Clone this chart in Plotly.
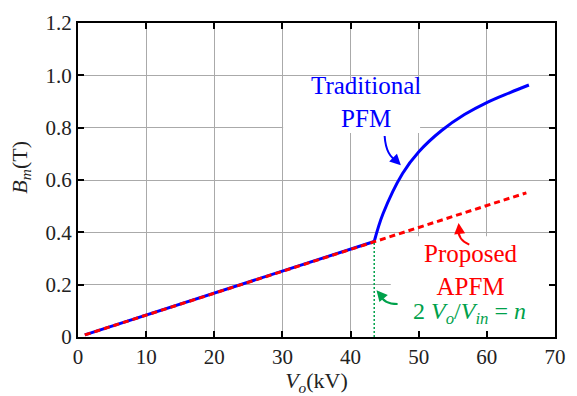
import plotly.graph_objects as go

# ---- data ----
vo_trad_lin = [1, 43.47]
bm_trad_lin = [0.008, 0.365]
vo_trad_sat = [43.47, 44.76, 47.63, 50.02, 53.36, 56.71, 60.06, 63.41, 66.17]
bm_trad_sat = [0.365, 0.471, 0.625, 0.708, 0.789, 0.850, 0.897, 0.934, 0.963]

vo_prop = [1, 43.47, 65.8]
bm_prop = [0.008, 0.365, 0.551]

vo_boundary = [43.47, 43.47]
bm_boundary = [0.0, 0.365]

x_ticks = [0, 10, 20, 30, 40, 50, 60, 70]
y_ticks = [0, 0.2, 0.4, 0.6, 0.8, 1.0, 1.2]
y_ticktext = ["0", "0.2", "0.4", "0.6", "0.8", "1.0", "1.2"]

BLUE = "#0000ff"
RED = "#ff0000"
GREEN = "#00a14b"
FONT = "Liberation Serif, Times New Roman, DejaVu Serif, serif"
TXT = "#222222"

fig = go.Figure()
fig.add_trace(go.Scatter(x=vo_trad_lin, y=bm_trad_lin, mode="lines",
                         line=dict(color=BLUE, width=3), showlegend=False))
fig.add_trace(go.Scatter(x=vo_trad_sat, y=bm_trad_sat, mode="lines",
                         line=dict(color=BLUE, width=3, shape="spline", smoothing=1),
                         showlegend=False))
fig.add_trace(go.Scatter(x=vo_prop, y=bm_prop, mode="lines",
                         line=dict(color=RED, width=3, dash="6px,4px"), showlegend=False))
fig.add_trace(go.Scatter(x=vo_boundary, y=bm_boundary, mode="lines",
                         line=dict(color=GREEN, width=1.5, dash="2px,2px"), showlegend=False))

# white label boxes hiding the grid
fig.add_shape(type="rect", xref="x", yref="y", x0=30.1, x1=50.2, y0=0.78, y1=0.975,
              fillcolor="white", line=dict(width=0), layer="between")
fig.add_shape(type="rect", xref="x", yref="y", x0=45.9, x1=70, y0=0.0, y1=0.385,
              fillcolor="white", line=dict(width=0), layer="between")

# curved arrow shafts
fig.add_shape(type="path", xref="x", yref="y", path="M 45.0,0.768 Q 45.2,0.690 46.9,0.672",
              line=dict(color=BLUE, width=2))
fig.add_shape(type="path", xref="x", yref="y", path="M 57.42,0.353 Q 55.7,0.372 55.8,0.415",
              line=dict(color=RED, width=2))
fig.add_shape(type="path", xref="x", yref="y", path="M 46.9,0.126 Q 44.8,0.126 44.3,0.165",
              line=dict(color=GREEN, width=2))

# arrowheads
for (x, y, ax, ay, c) in [(47.38, 0.656, -7, -7, BLUE), (55.85, 0.436, 1, 10, RED), (43.8, 0.179, 6, 7, GREEN)]:
    fig.add_annotation(x=x, y=y, ax=ax, ay=ay, text="", showarrow=True, arrowhead=2,
                       arrowsize=1.1, arrowwidth=2, arrowcolor=c)

# labels
fig.add_annotation(x=42.3, y=0.897, text="Traditional<br>PFM", showarrow=False,
                   font=dict(family=FONT, size=25, color=BLUE))
fig.add_annotation(x=57.7, y=0.255, text="Proposed<br>APFM", showarrow=False,
                   font=dict(family=FONT, size=25, color=RED))
fig.add_annotation(x=57.5, y=0.090,
                   text="2 <i>V</i><sub><i>o</i></sub>/<i>V</i><sub><i>in</i></sub> = <i>n</i>",
                   showarrow=False, font=dict(family=FONT, size=24, color=GREEN))

# y axis title
fig.add_annotation(xref="paper", yref="paper", x=-0.119, y=0.54, xanchor="center",
                   yanchor="middle", textangle=-90, showarrow=False,
                   text="<i>B</i><sub><i>m</i></sub>(T)",
                   font=dict(family=FONT, size=22, color=TXT))

axis_common = dict(showline=True, linecolor="black", linewidth=2, mirror="ticks",
                   ticks="inside", ticklen=6, tickwidth=2, tickcolor="black",
                   showgrid=True, gridcolor="#aaaaaa", gridwidth=1, zeroline=False,
                   tickfont=dict(family=FONT, size=21, color=TXT))

fig.update_xaxes(range=[0, 70], tickvals=x_ticks, **axis_common,
                 title=dict(text="<i>V</i><sub><i>o</i></sub>(kV)",
                            font=dict(family=FONT, size=22, color=TXT), standoff=0))
fig.update_yaxes(range=[0, 1.2], tickvals=y_ticks, ticktext=y_ticktext, **axis_common)

fig.update_layout(width=577, height=396, margin=dict(l=78, r=11, t=17, b=56),
                  plot_bgcolor="white", paper_bgcolor="white",
                  font=dict(family=FONT))

fig.write_html("out.html")
